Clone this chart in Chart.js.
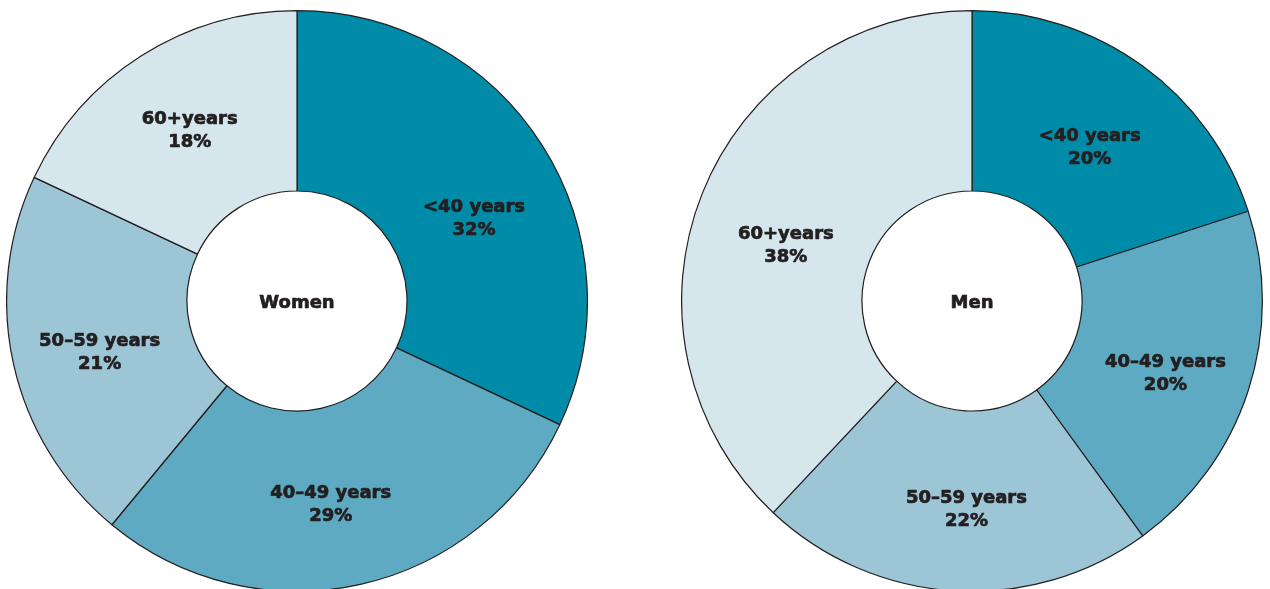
<!DOCTYPE html>
<html>
<head>
<meta charset="utf-8">
<script src="https://cdn.jsdelivr.net/npm/chart.js@4"></script>
<style>
  html, body { margin: 0; padding: 0; background: #fff; overflow: hidden; }
  .wrap { position: relative; width: 1270px; height: 589px; }
  .pie { position: absolute; top: 10px; width: 582px; height: 582px; }
  #chart-women { left: 6px; }
  #chart-men { left: 681px; }
</style>
</head>
<body>
<div class="wrap">
  <div class="pie" id="chart-women"><canvas id="c-women" width="582" height="582"></canvas></div>
  <div class="pie" id="chart-men"><canvas id="c-men" width="582" height="582"></canvas></div>
</div>
<script>
const ageGroups = ['<40 years', '40\u201349 years', '50\u201359 years', '60+years'];
const womenPct = [32, 29, 21, 18];
const menPct = [20, 20, 22, 38];

const sliceColors = ['#008ca8', '#5eaac2', '#9cc5d6', '#d5e6ed'];
const ink = '#231f20';

// small hand nudges so labels sit where the original put them
const womenNudge = [[8, 25], [-10, 8], [-2, 8], [0, -1]];
const menNudge = [[0, 9], [3, 11], [7, 9], [0, 19]];

function heavyText(ctx, txt, x, y) {
  // the original face is heavier than DejaVu Bold, so thicken it a bit
  ctx.strokeText(txt, x, y);
  ctx.fillText(txt, x, y);
}

const sliceLabels = {
  id: 'sliceLabels',
  afterDatasetsDraw(chart, args, opts) {
    const ctx = chart.ctx;
    const meta = chart.getDatasetMeta(0);
    const values = chart.data.datasets[0].data;
    ctx.save();
    ctx.fillStyle = ink;
    ctx.strokeStyle = ink;
    ctx.lineWidth = 0.7;
    ctx.lineJoin = 'round';
    ctx.textAlign = 'center';
    ctx.textBaseline = 'middle';
    ctx.font = 'bold 18px "DejaVu Sans", sans-serif';
    meta.data.forEach((arc, i) => {
      const p = arc.getCenterPoint();
      const n = opts.nudge[i] || [0, 0];
      const x = p.x + n[0];
      const y = p.y + n[1];
      heavyText(ctx, chart.data.labels[i], x, y - 11.5);
      heavyText(ctx, values[i] + '%', x, y + 11.5);
    });
    const a = meta.data[0];
    heavyText(ctx, opts.title, a.x, a.y + 2);
    ctx.restore();
  },
};

function makePie(id, data, title, nudge) {
  return new Chart(document.getElementById(id), {
    type: 'doughnut',
    data: {
      labels: ageGroups,
      datasets: [{
        data: data,
        backgroundColor: sliceColors,
        borderColor: ink,
        borderWidth: 1.2,
      }],
    },
    options: {
      responsive: false,
      animation: false,
      cutout: 110,
      layout: { padding: 0 },
      plugins: {
        legend: { display: false },
        tooltip: { enabled: false },
        sliceLabels: { title: title, nudge: nudge },
      },
    },
    plugins: [sliceLabels],
  });
}

makePie('c-women', womenPct, 'Women', womenNudge);
makePie('c-men', menPct, 'Men', menNudge);
</script>
</body>
</html>
